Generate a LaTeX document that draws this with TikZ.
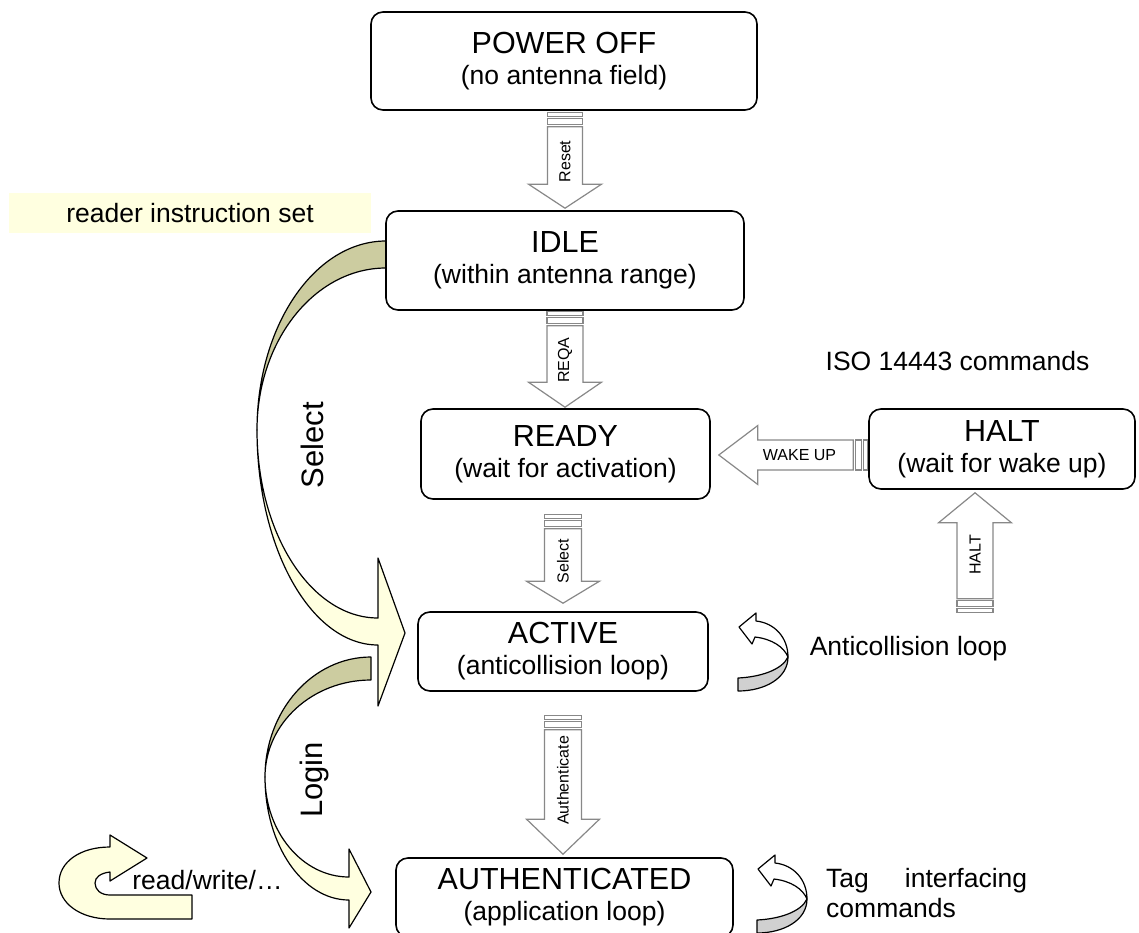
\documentclass[tikz,border=0pt]{standalone}
\usepackage{fontspec}
\setmainfont{Liberation Sans}
\usetikzlibrary{calc}

\definecolor{ribbonfront}{RGB}{255,255,224}
\definecolor{ribbonback}{RGB}{204,204,160}
\definecolor{loopback}{RGB}{208,208,208}
\definecolor{gategray}{RGB}{136,136,136}

\newcommand{\statetitle}[1]{{\fontsize{30.5}{31}\selectfont #1}}

% striped block arrow: tail, tip, head length, shaft half, head half, label angle, label
\newcommand{\gatearrow}[7]{%
  \path (#1) coordinate (gatetail) (#2) coordinate (gatetip);
  \path let \p1=(gatetail), \p2=(gatetip) in
    \pgfextra{%
      \pgfmathsetmacro{\gateangle}{atan2(\y2-(\y1),\x2-(\x1))}%
      \pgfmathsetmacro{\gatelength}{veclen(\x2-(\x1),\y2-(\y1))}%
      \xdef\gateangle{\gateangle}%
      \xdef\gatelength{\gatelength}};
  \begin{scope}[shift={(gatetail)}, rotate=\gateangle, x=1pt, y=1pt]
    \draw[gate] (0,-#4) rectangle (4,#4);
    \draw[gate] (6,-#4) rectangle (12,#4);
    \draw[gate] (14,-#4) -- (\gatelength-#3,-#4) -- (\gatelength-#3,-#5)
      -- (\gatelength,0) -- (\gatelength-#3,#5) -- (\gatelength-#3,#4) -- (14,#4) -- cycle;
    \node[gatelabel, rotate=#6] at ({(14+\gatelength-#3)/2+6},0) {#7};
  \end{scope}}

% small self loop arrow, origin at its left top
\newcommand{\looparrow}[1]{%
  \begin{scope}[shift={#1}]
    \filldraw[ribbon, fill=white] (18,8) .. controls (37,10) and (50,25) .. (50,44)
      .. controls (46,34) and (34,26) .. (17,24) -- (14,31) -- (1,14) -- (18,0) -- cycle;
    \filldraw[ribbon, fill=loopback] (50,44) .. controls (50,65) and (27,78) .. (0,78)
      -- (0,65) .. controls (22,64) and (44,57) .. (50,44) -- cycle;
  \end{scope}}

\begin{document}
\begin{tikzpicture}[x=1pt, y=-1pt,
    state/.style={draw, fill=white, line width=1.6pt, rounded corners=12pt, align=center,
      inner sep=0pt, font=\fontsize{26.5}{31}\selectfont},
    gate/.style={draw=gategray, fill=white, line width=1.2pt},
    gatelabel/.style={font=\fontsize{16}{16}\selectfont, inner sep=0pt},
    ribbon/.style={draw, line width=1.2pt, line join=round},
    note/.style={font=\fontsize{26.5}{30}\selectfont, inner sep=0pt}]
  \useasboundingbox (0,0) rectangle (1139,933);

  % Select ribbon
  \filldraw[ribbon, fill=ribbonback] (386,241) .. controls (314.8,241) and (257,325.6) .. (257,430)
    .. controls (257,340.5) and (314.8,268) .. (386,268) -- cycle;
  \filldraw[ribbon, fill=ribbonfront] (257,430) .. controls (257,548.7) and (311.2,645) .. (378,645)
    -- (378,706) -- (405,633) -- (378,558) -- (378,618)
    .. controls (311.2,618) and (257,533.8) .. (257,430) -- cycle;
  % Login ribbon
  \filldraw[ribbon, fill=ribbonback] (371,657) .. controls (312.5,657) and (265,710.7) .. (265,777)
    .. controls (265,723.4) and (312.5,680) .. (371,680) -- cycle;
  \filldraw[ribbon, fill=ribbonfront] (265,777) .. controls (265,844.9) and (302.6,900) .. (349,900)
    -- (349,928) -- (371,892) -- (349,849) -- (349,877)
    .. controls (302.6,877) and (265,832.2) .. (265,777) -- cycle;
  % read/write turn
  \filldraw[ribbon, fill=ribbonfront] (110,847) -- (110,835) -- (147,858) -- (110,881) -- (110,872)
    .. controls (101,873) and (95,877) .. (95,883) .. controls (95,890) and (101,895) .. (110,895)
    -- (192,895) -- (192,919) -- (110,919)
    .. controls (80,919) and (59,903) .. (59,883) .. controls (59,862) and (80,847) .. (110,847) -- cycle;

  \looparrow{(738,613)}
  \looparrow{(757,855)}

  \node[state, minimum width=386pt, minimum height=98pt] (poweroff) at (564,61)
    {\statetitle{POWER OFF}\\(no antenna field)};
  \node[state, minimum width=358pt, minimum height=99pt] (idle) at (565,260.5)
    {\statetitle{IDLE}\\(within antenna range)};
  \node[state, minimum width=289pt, minimum height=90pt] (ready) at (565.5,454)
    {\statetitle{READY}\\(wait for activation)};
  \node[state, minimum width=266pt, minimum height=80pt] (halt) at (1002,449)
    {\statetitle{HALT}\\(wait for wake up)};
  \node[state, minimum width=290pt, minimum height=79pt] (active) at (563,651.5)
    {\statetitle{ACTIVE}\\(anticollision loop)};
  \node[state, minimum width=337pt, minimum height=79pt] (authenticated) at (564.5,897.5)
    {\statetitle{AUTHENTICATED}\\(application loop)};

  \gatearrow{$(poweroff.south)+(1,2)$}{$(idle.north)+(0,-2)$}{24}{17.5}{36.5}{90}{Reset}
  \gatearrow{$(idle.south)+(0,1)$}{$(idle.south |- ready.north)+(0,-1)$}{25}{18}{36.5}{90}{REQA}
  \gatearrow{$(active.north |- ready.south)+(0,15)$}{$(active.north)+(0,-8)$}{22}{18.5}{36.5}{90}{Select}
  \gatearrow{$(active.south)+(0,24)$}{$(active.south |- authenticated.north)+(0,-3)$}{35}{18.5}{36.5}{90}{Authenticate}
  \gatearrow{$(halt.west |- ready.east)+(-1,1)$}{$(ready.east)+(8,1)$}{39}{15}{29.5}{0}{WAKE UP}
  \gatearrow{$(halt.south)+(-27,123)$}{$(halt.south)+(-27,3)$}{30}{18}{36.5}{90}{HALT}

  \node[note, fill=ribbonfront, minimum width=362pt, minimum height=40pt] (readerset) at (190,213)
    {reader instruction set};
  \node[note] (isocmds) at (957.5,361) {ISO 14443 commands};
  \node[note] (anticoll) at (908.5,649) {Anticollision loop};
  \node[note, anchor=west, align=left] (tagcmds) at (826,893) {Tag\hspace{36pt}interfacing\\commands};
  \node[note] (rwlabel) at (207.5,880) {read/write/…};
  \node[note, font=\fontsize{31}{31}\selectfont, rotate=90] (selectlabel) at (312,445) {Select};
  \node[note, font=\fontsize{31}{31}\selectfont, rotate=90] (loginlabel) at (314,780) {Login};
\end{tikzpicture}
\end{document}
